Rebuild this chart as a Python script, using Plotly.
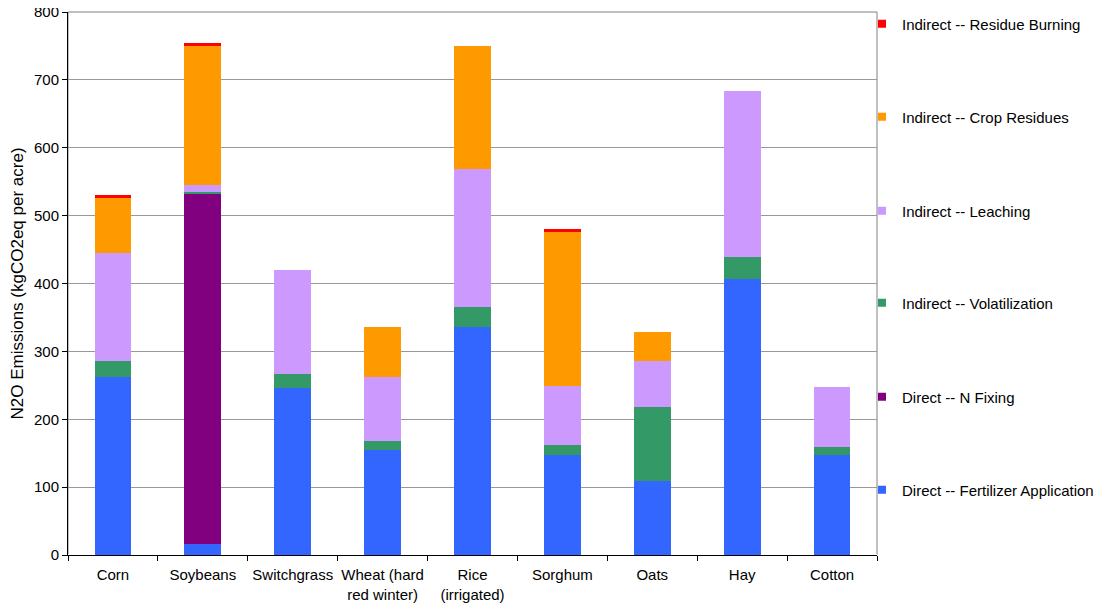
import plotly.graph_objects as go

categories = ["Corn", "Soybeans", "Switchgrass", "Wheat (hard<br>red winter)", "Rice<br>(irrigated)",
              "Sorghum", "Oats", "Hay", "Cotton"]

fertilizer = [262, 16, 246, 155, 336, 147, 109, 407, 147]
n_fixing = [0, 517, 0, 0, 0, 0, 0, 0, 0]
volatilization = [24, 2, 21, 13, 29, 15, 109, 32, 12]
leaching = [159, 10, 153, 94, 204, 87, 68, 245, 89]
crop_residues = [81, 205, 0, 74, 181, 227, 43, 0, 0]
residue_burning = [4, 4, 0, 0, 0, 4, 0, 0, 0]

series_names = ["Direct -- Fertilizer Application", "Direct -- N Fixing", "Indirect -- Volatilization",
                "Indirect -- Leaching", "Indirect -- Crop Residues", "Indirect -- Residue Burning"]
series_values = [fertilizer, n_fixing, volatilization, leaching, crop_residues, residue_burning]
series_colors = ["#3366FF", "#800080", "#339966", "#CC99FF", "#FF9900", "#FF0000"]
legend_y = [0.1967, 0.3517, 0.5083, 0.6617, 0.8183, 0.9733]

font = "Liberation Sans, Arial, sans-serif"
fig = go.Figure()
legends = {}
for i, (name, vals, color) in enumerate(zip(series_names, series_values, series_colors)):
    lid = "legend" if i == 0 else f"legend{i+1}"
    fig.add_trace(go.Bar(x=categories, y=vals, name=name, showlegend=False,
                         marker=dict(color=color, line=dict(width=0))))
    fig.add_trace(go.Scatter(x=[None], y=[None], mode="markers", name=name, legend=lid,
                             marker=dict(symbol="square", size=8, color=color), showlegend=True,
                             hoverinfo="skip"))
    legends[lid] = dict(x=0.7799, y=legend_y[i], xref="container", yref="container",
                        xanchor="left", yanchor="middle",
                        bgcolor="rgba(0,0,0,0)", font=dict(family=font, size=15, color="black"))

fig.update_layout(
    barmode="stack",
    bargap=0.59,
    width=1095, height=600,
    margin=dict(l=60, r=226, t=4, b=53, autoexpand=False),
    plot_bgcolor="white", paper_bgcolor="white",
    font=dict(family=font, size=15, color="black"),
    showlegend=True,
    **legends,
)
fig.update_xaxes(showline=True, linecolor="black", linewidth=1, ticks="outside",
                 tickson="boundaries", ticklen=5, tickcolor="black", tickangle=0,
                 tickfont=dict(size=15), ticklabelstandoff=6, automargin=False)
fig.update_yaxes(range=[0, 800], dtick=100, showgrid=True, gridcolor="#999999", gridwidth=1,
                 showline=True, linecolor="black", linewidth=1, ticks="outside", ticklen=5,
                 tickcolor="black", tickfont=dict(size=15), automargin=False,
                 ticklabeloverflow="allow",
                 title=dict(text="N2O Emissions (kgCO2eq per acre)", font=dict(size=17)))
fig.add_shape(type="rect", xref="paper", yref="paper", x0=0, y0=0, x1=1, y1=1,
              line=dict(color="#808080", width=1), layer="below")

fig.write_html("out.html")
